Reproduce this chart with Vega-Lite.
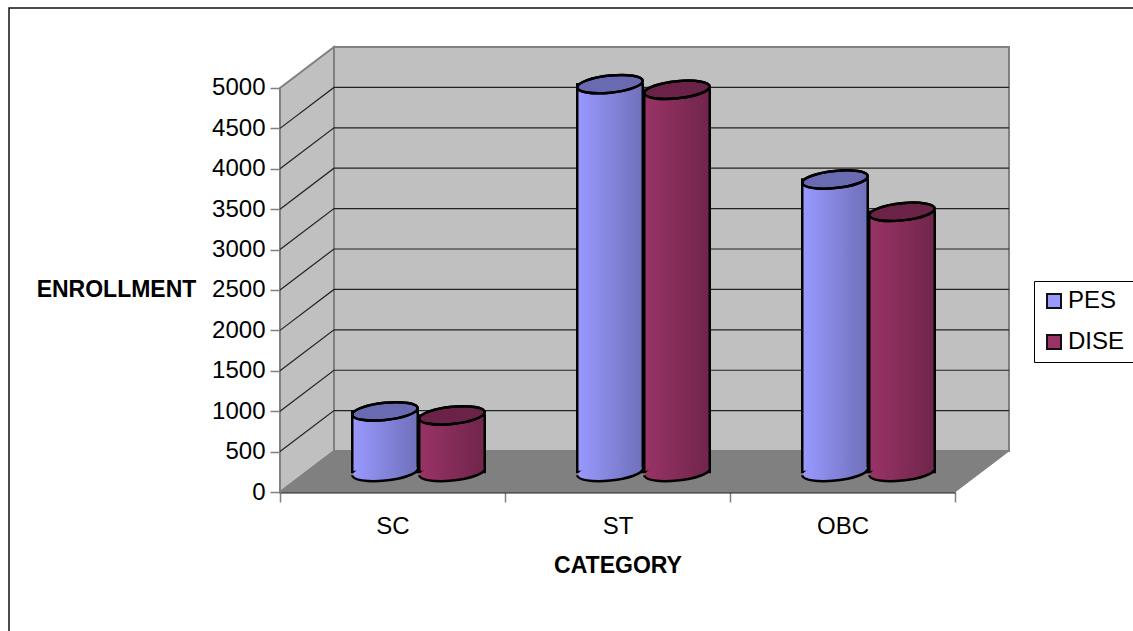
{
"$schema":"https://vega.github.io/schema/vega-lite/v6.json",
"width":729,"height":445,
"autosize":{"type":"none"},
"padding":{"left":280,"top":47,"right":124,"bottom":139},
"background":"white",
"config":{"view":{"stroke":null},"font":"Liberation Sans"},
"datasets":{
"bars":[
{"category":"SC","series":"PES","enrollment":750},
{"category":"SC","series":"DISE","enrollment":700},
{"category":"ST","series":"PES","enrollment":4800},
{"category":"ST","series":"DISE","enrollment":4730},
{"category":"OBC","series":"PES","enrollment":3620},
{"category":"OBC","series":"DISE","enrollment":3220}],
"grid":[
{"level":500,"x":0,"y":500},{"level":500,"x":0.24,"y":1007},{"level":500,"x":3.24,"y":1007},
{"level":1000,"x":0,"y":1000},{"level":1000,"x":0.24,"y":1507},{"level":1000,"x":3.24,"y":1507},
{"level":1500,"x":0,"y":1500},{"level":1500,"x":0.24,"y":2007},{"level":1500,"x":3.24,"y":2007},
{"level":2000,"x":0,"y":2000},{"level":2000,"x":0.24,"y":2507},{"level":2000,"x":3.24,"y":2507},
{"level":2500,"x":0,"y":2500},{"level":2500,"x":0.24,"y":3007},{"level":2500,"x":3.24,"y":3007},
{"level":3000,"x":0,"y":3000},{"level":3000,"x":0.24,"y":3507},{"level":3000,"x":3.24,"y":3507},
{"level":3500,"x":0,"y":3500},{"level":3500,"x":0.24,"y":4007},{"level":3500,"x":3.24,"y":4007},
{"level":4000,"x":0,"y":4000},{"level":4000,"x":0.24,"y":4507},{"level":4000,"x":3.24,"y":4507},
{"level":4500,"x":0,"y":4500},{"level":4500,"x":0.24,"y":5007},{"level":4500,"x":3.24,"y":5007}]
},
"resolve":{"scale":{"x":"independent"},"axis":{"y":"independent"}},
"layer":[
{"layer":[
{"data":{"values":[{"x":-1.2044,"x2":3.85,"y":5990,"y2":-1900}]},
 "mark":{"type":"rect","fill":null,"stroke":"#111","strokeWidth":1.5,"clip":false},
 "encoding":{"x":{"field":"x","type":"quantitative","axis":null,"scale":{"domain":[0,3.24],"nice":false,"zero":false}},"x2":{"field":"x2"},
 "y":{"field":"y","type":"quantitative","axis":null,"scale":{"domain":[0,5507],"nice":false,"zero":false}},"y2":{"field":"y2"}}},
{"data":{"values":[{"x":0,"y":0,"y2":5000},{"x":0.24,"y":507,"y2":5507}]},
 "mark":{"type":"area","fill":"#C0C0C0","stroke":"#808080","strokeWidth":2},
 "encoding":{"x":{"field":"x","type":"quantitative","axis":null},"y":{"field":"y","type":"quantitative","axis":null},"y2":{"field":"y2"}}},
{"data":{"values":[{"x":0.24,"y":507,"y2":5507},{"x":3.24,"y":507,"y2":5507}]},
 "mark":{"type":"area","fill":"#C0C0C0","stroke":"#808080","strokeWidth":2},
 "encoding":{"x":{"field":"x","type":"quantitative","axis":null},"y":{"field":"y","type":"quantitative","axis":null},"y2":{"field":"y2"}}},
{"data":{"values":[{"x":0,"y":0,"y2":0},{"x":0.24,"y":0,"y2":507},{"x":3,"y":0,"y2":507},{"x":3.24,"y":507,"y2":507}]},
 "mark":{"type":"area","fill":"#808080","stroke":"#808080","strokeWidth":1},
 "encoding":{"x":{"field":"x","type":"quantitative","axis":null},"y":{"field":"y","type":"quantitative","axis":null},"y2":{"field":"y2"}}},
{"data":{"name":"grid"},
 "mark":{"type":"line","stroke":"#222","strokeWidth":1.2},
 "encoding":{"x":{"field":"x","type":"quantitative","axis":null},"y":{"field":"y","type":"quantitative","axis":null},"detail":{"field":"level"}}}
]},
{"data":{"name":"bars"},
 "encoding":{
  "x":{"field":"category","type":"nominal","scale":{"domain":["SC","ST","OBC"],"range":[0,675],"paddingInner":0,"paddingOuter":0},
   "axis":{"title":"CATEGORY","titleFont":"Liberation Sans","titleFontSize":23,"titleFontWeight":"bold","titleColor":"#000","titlePadding":16,"labelFont":"Liberation Sans","labelFontSize":24,"labelColor":"#000","labelAngle":0,"labelPadding":12,"tickBand":"extent","tickSize":10,"tickColor":"#808080","tickWidth":1.5,"domainColor":"#222","domainWidth":2}},
  "xOffset":{"field":"series","type":"nominal","scale":{"type":"point","domain":["PES","DISE"],"range":[105,172],"padding":0}},
  "y":{"field":"enrollment","type":"quantitative","scale":{"domain":[0,5507],"nice":false,"zero":false},
   "axis":{"orient":"left","title":"ENROLLMENT","titleFont":"Liberation Sans","titleFontSize":23,"titleFontWeight":"bold","titleColor":"#000","titleAngle":0,"titleX":-164,"titleY":242,"titleAlign":"center","titleBaseline":"middle","labelFont":"Liberation Sans","labelFontSize":24,"labelColor":"#000","labelPadding":5,"values":[0,500,1000,1500,2000,2500,3000,3500,4000,4500,5000],"format":"d","grid":false,"domain":false,"tickSize":10,"tickColor":"#808080","tickWidth":1.5}},
  "color":{"field":"series","type":"nominal","scale":{"domain":["PES","DISE"],"range":["#9999FF","#993366"]},
   "legend":{"title":null,"orient":"none","legendX":754,"legendY":234,"strokeColor":"#000","fillColor":"#fff","padding":8,"rowPadding":17,"symbolType":"square","symbolSize":196,"symbolStrokeColor":"#111","symbolStrokeWidth":2,"symbolOpacity":1,"labelFont":"Liberation Sans","labelFontSize":24,"labelColor":"#000","labelOffset":2}}
 },
 "layer":[
 {"mark":{"type":"bar","width":65.5,"yOffset":-20,"y2Offset":-20,"stroke":"#000","strokeWidth":2.5},
  "encoding":{"y2":{"datum":0}}},
 {"mark":{"type":"bar","width":65.5,"yOffset":-20,"y2Offset":-20,
   "fill":{"gradient":"linear","x1":0,"y1":0,"x2":1,"y2":0,"stops":[{"offset":0,"color":"rgba(0,0,0,0)"},{"offset":1,"color":"rgba(0,0,0,0.27)"}]}},
  "encoding":{"y2":{"datum":0},"color":{"value":null}}},
 {"mark":{"type":"point","filled":true,"opacity":1,"shape":"M-1,0.1 A1,0.26 -6 1 1 1,-0.1 A1,0.26 -6 1 1 -1,0.1 Z","size":4150,"stroke":null,"yOffset":-20},
  "encoding":{"y":{"datum":0,"type":"quantitative"}}},
 {"mark":{"type":"point","filled":true,"opacity":1,"shape":"M-1,0.1 A1,0.26 -6 1 1 1,-0.1 A1,0.26 -6 1 1 -1,0.1 Z","size":4150,"stroke":null,"yOffset":-20,
   "fill":{"gradient":"linear","x1":0,"y1":0,"x2":1,"y2":0,"stops":[{"offset":0,"color":"rgba(0,0,0,0)"},{"offset":1,"color":"rgba(0,0,0,0.27)"}]}},
  "encoding":{"y":{"datum":0,"type":"quantitative"},"color":{"value":null}}},
 {"mark":{"type":"point","filled":false,"opacity":1,"shape":"M-1,0.1 A1,0.26 -6 0 0 1,-0.1","size":4290,"stroke":"#000","strokeWidth":2.5,"yOffset":-20},
  "encoding":{"y":{"datum":0,"type":"quantitative"},"color":{"value":"#000"}}},
 {"mark":{"type":"point","filled":true,"opacity":1,"shape":"M-1,0.1 A1,0.26 -6 1 1 1,-0.1 A1,0.26 -6 1 1 -1,0.1 Z","size":4290,"stroke":"#000","strokeWidth":2.5,"yOffset":-20}},
 {"mark":{"type":"point","filled":true,"fill":"#000","fillOpacity":0.3,"opacity":1,"shape":"M-1,0.1 A1,0.26 -6 1 1 1,-0.1 A1,0.26 -6 1 1 -1,0.1 Z","size":4290,"stroke":"#000","strokeWidth":2.5,"yOffset":-20},
  "encoding":{"color":{"value":null}}}
 ]}
]
}
